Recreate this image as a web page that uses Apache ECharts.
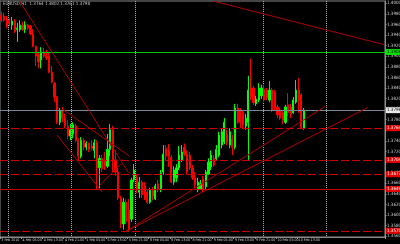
<!DOCTYPE html>
<html><head><meta charset="utf-8">
<script src="https://cdn.jsdelivr.net/npm/echarts@6/dist/echarts.min.js"></script>
<style>html,body{margin:0;padding:0;background:#000;}#c{width:400px;height:244px;}</style>
</head><body><div id="c"></div>
<script>
const symbolTitle = 'EURUSD,H1  1.3764 1.3802 1.3761 1.3798';
const timeLabels = ['3 Feb 2010','4 Feb 05:00','4 Feb 13:00','4 Feb 21:00','5 Feb 05:00','5 Feb 13:00','5 Feb 21:00','8 Feb 05:00','8 Feb 13:00','8 Feb 21:00','9 Feb 05:00','9 Feb 13:00','9 Feb 21:00','10 Feb 05:00','10 Feb 13:00'];
const labelEvery = 8;
const totalSlots = 145;
const separatorSlots = [3, 27, 51, 99, 123];
const priceTicks = [1.3560,1.3580,1.3600,1.3620,1.3640,1.3660,1.3680,1.3700,1.3720,1.3740,1.3760,1.3780,1.3800,1.3820,1.3840,1.3860,1.3880,1.3900,1.3920,1.3940,1.3960,1.3980,1.4000];
const priceMin = 1.35583, priceMax = 1.40043;

const open = [1.3978,1.3976,1.3972,1.3968,1.3959,1.3966,1.3950,1.3950,1.3959,1.3951,
1.3959,1.3957,1.3942,1.3919,1.3904,1.3893,1.3908,1.3900,1.3900,1.3870,
1.3849,1.3823,1.3775,1.3798,1.3783,1.3768,1.3749,1.3753,1.3768,1.3741,
1.3711,1.3741,1.3728,1.3735,1.3730,1.3722,1.3737,1.3689,1.3707,1.3704,
1.3692,1.3724,1.3761,1.3704,1.3681,1.3632,1.3583,1.3624,1.3609,1.3592,
1.3666,1.3670,1.3643,1.3662,1.3655,1.3643,1.3624,1.3647,1.3630,1.3659,
1.3649,1.3681,1.3726,1.3722,1.3709,1.3662,1.3670,1.3689,1.3704,1.3728,
1.3715,1.3713,1.3689,1.3670,1.3647,1.3649,1.3668,1.3653,1.3677,1.3691,
1.3707,1.3706,1.3713,1.3732,1.3738,1.3753,1.3732,1.3743,1.3728,1.3802,
1.3798,1.3794,1.3768,1.3775,1.3840,1.3840,1.3810,1.3817,1.3825,1.3838,
1.3836,1.3817,1.3836,1.3832,1.3804,1.3798,1.3793,1.3775,1.3808,1.3804,
1.3793,1.3813,1.3836,1.3827,1.3764];
const close = [1.3968,1.3968,1.3957,1.3961,1.3966,1.3946,1.3953,1.3959,1.3950,1.3959,
1.3953,1.3942,1.3919,1.3900,1.3889,1.3908,1.3900,1.3897,1.3870,1.3851,
1.3823,1.3775,1.3798,1.3783,1.3768,1.3749,1.3761,1.3770,1.3741,1.3711,
1.3741,1.3728,1.3735,1.3724,1.3726,1.3737,1.3689,1.3707,1.3687,1.3692,
1.3724,1.3761,1.3704,1.3681,1.3632,1.3583,1.3624,1.3587,1.3572,1.3666,
1.3685,1.3647,1.3662,1.3638,1.3632,1.3624,1.3647,1.3636,1.3655,1.3647,
1.3679,1.3715,1.3711,1.3711,1.3662,1.3685,1.3689,1.3713,1.3719,1.3715,
1.3681,1.3689,1.3670,1.3657,1.3662,1.3659,1.3649,1.3681,1.3700,1.3713,
1.3694,1.3724,1.3751,1.3757,1.3775,1.3738,1.3757,1.3728,1.3802,1.3775,
1.3775,1.3770,1.3783,1.3836,1.3823,1.3812,1.3819,1.3840,1.3840,1.3817,
1.3821,1.3836,1.3798,1.3802,1.3789,1.3783,1.3779,1.3804,1.3793,1.3789,
1.3817,1.3836,1.3817,1.3764,1.3798];
const low = [1.3965,1.3965,1.3953,1.3957,1.3950,1.3944,1.3927,1.3946,1.3948,1.3944,
1.3950,1.3940,1.3917,1.3881,1.3877,1.3877,1.3897,1.3893,1.3868,1.3849,
1.3813,1.3772,1.3770,1.3775,1.3764,1.3743,1.3741,1.3745,1.3737,1.3704,
1.3707,1.3722,1.3722,1.3719,1.3722,1.3707,1.3647,1.3651,1.3681,1.3685,
1.3689,1.3711,1.3681,1.3674,1.3628,1.3575,1.3572,1.3583,1.3568,1.3587,
1.3662,1.3641,1.3632,1.3632,1.3628,1.3621,1.3621,1.3628,1.3628,1.3643,
1.3643,1.3676,1.3704,1.3691,1.3660,1.3657,1.3662,1.3685,1.3700,1.3711,
1.3676,1.3685,1.3666,1.3651,1.3643,1.3647,1.3643,1.3647,1.3676,1.3685,
1.3691,1.3702,1.3709,1.3726,1.3734,1.3732,1.3726,1.3713,1.3724,1.3772,
1.3764,1.3764,1.3761,1.3704,1.3817,1.3808,1.3806,1.3813,1.3819,1.3813,
1.3817,1.3813,1.3794,1.3798,1.3783,1.3779,1.3772,1.3772,1.3787,1.3783,
1.3791,1.3810,1.3793,1.3762,1.3761];
const high = [1.3984,1.3982,1.3976,1.3972,1.3974,1.3970,1.3963,1.3968,1.3965,1.3966,
1.3961,1.3959,1.3951,1.3919,1.3908,1.3917,1.3915,1.3912,1.3908,1.3881,
1.3851,1.3825,1.3802,1.3804,1.3791,1.3779,1.3772,1.3775,1.3772,1.3745,
1.3747,1.3745,1.3739,1.3737,1.3741,1.3743,1.3741,1.3713,1.3713,1.3719,
1.3753,1.3772,1.3768,1.3722,1.3689,1.3636,1.3632,1.3630,1.3630,1.3670,
1.3696,1.3676,1.3672,1.3666,1.3662,1.3647,1.3651,1.3653,1.3659,1.3666,
1.3685,1.3732,1.3732,1.3734,1.3713,1.3692,1.3696,1.3730,1.3732,1.3735,
1.3722,1.3719,1.3694,1.3681,1.3670,1.3666,1.3674,1.3685,1.3707,1.3722,
1.3713,1.3732,1.3757,1.3764,1.3783,1.3761,1.3764,1.3751,1.3810,1.3810,
1.3802,1.3798,1.3791,1.3863,1.3895,1.3844,1.3825,1.3849,1.3846,1.3846,
1.3840,1.3853,1.3840,1.3836,1.3808,1.3802,1.3796,1.3808,1.3830,1.3810,
1.3823,1.3855,1.3859,1.3830,1.3802];

const greenLevel = 1.3908;
const bidLevel = 1.3798;
const redDashedLevels = [1.3764, 1.3704, 1.3677, 1.3570];
const redSolidLevels = [1.3649];
// trend lines: [[barIndex, price], [barIndex, price]]
const trendLines = [
  [[7, 1.4003], [48, 1.3679]],
  [[23, 1.3800], [48, 1.3712]],
  [[21, 1.3751], [38, 1.3643]],
  [[37, 1.3656], [45, 1.3696]],
  [[47, 1.3569], [122, 1.3805]],
  [[47, 1.3569], [138, 1.3803]],
  [[80, 1.4004], [144, 1.3922]]
];

const categories = [];
for (let i = 0; i < totalSlots; i++) categories.push(String(i));
const candleData = open.map((o, i) => [o, close[i], low[i], high[i]]);

const FONT = '"Liberation Sans Narrow","DejaVu Sans Condensed","Liberation Sans",sans-serif';
function levelLine(v, color, type, bg, fg) {
  return {
    yAxis: v,
    lineStyle: {color: color, type: type, width: 1},
    label: {show: true, position: 'end', distance: 1, formatter: v.toFixed(4),
      backgroundColor: bg, color: fg, fontSize: 4.5, fontFamily: FONT, padding: [1, 1, 0, 1]}
  };
}
const mlData = [];
mlData.push(levelLine(greenLevel, '#00c800', 'solid', '#00e000', '#000'));
mlData.push(levelLine(bidLevel, '#7a8799', 'solid', '#e8e8e8', '#000'));
redDashedLevels.forEach(v => mlData.push(levelLine(v, '#d00000', [8, 3], '#e00000', '#fff')));
redSolidLevels.forEach(v => mlData.push(levelLine(v, '#c80000', 'solid', '#e00000', '#fff')));
trendLines.forEach(t => mlData.push([
  {coord: t[0], lineStyle: {color: '#b00000', width: 1, type: 'solid'}, label: {show: false}},
  {coord: t[1]}
]));

const chart = echarts.init(document.getElementById('c'), null, {renderer: 'canvas'});
chart.setOption({
  backgroundColor: '#000',
  animation: false,
  grid: {left: 0, right: 15, top: 1, bottom: 7, show: true, borderColor: '#8a8a8a', borderWidth: 1, containLabel: false, outerBoundsMode: 'none'},
  graphic: [{type: 'text', left: 3, top: 1, style: {text: symbolTitle, fill: '#c8c8c8', fontSize: 4.5, fontFamily: FONT}}],
  xAxis: {
    type: 'category', data: categories, boundaryGap: true,
    axisLine: {show: true, lineStyle: {color: '#8a8a8a'}},
    axisTick: {show: true, length: 2, interval: (i) => i % labelEvery === 0 && i / labelEvery < timeLabels.length, lineStyle: {color: '#9a9a9a'}},
    axisLabel: {show: true, interval: (i) => i % labelEvery === 0 && i / labelEvery < timeLabels.length,
      formatter: (v, i) => timeLabels[Math.round(Number(v) / labelEvery)] || '',
      align: 'left', margin: 1, color: '#d0d0d0', fontSize: 3.6, fontFamily: FONT},
    splitLine: {show: true, interval: (i) => separatorSlots.indexOf(i) >= 0, lineStyle: {color: '#b0b0b0', type: [1, 1], width: 1}}
  },
  yAxis: {
    type: 'value', position: 'right', scale: true, min: priceMin, max: priceMax,
    axisLine: {show: true, lineStyle: {color: '#8a8a8a'}},
    axisTick: {show: true, length: 1.5, customValues: priceTicks, lineStyle: {color: '#9a9a9a'}},
    axisLabel: {show: true, customValues: priceTicks, formatter: v => v.toFixed(4), margin: 2, color: '#d0d0d0', fontSize: 4.5, fontFamily: FONT},
    splitLine: {show: false}
  },
  series: [{
    type: 'candlestick', data: candleData, barWidth: 1.7,
    itemStyle: {color: '#00ff00', color0: '#ff0000', borderColor: '#00ff00', borderColor0: '#ff0000', borderWidth: 1},
    markLine: {silent: true, precision: 6, symbol: ['none', 'none'], animation: false, data: mlData}
  }]
});
</script></body></html>
